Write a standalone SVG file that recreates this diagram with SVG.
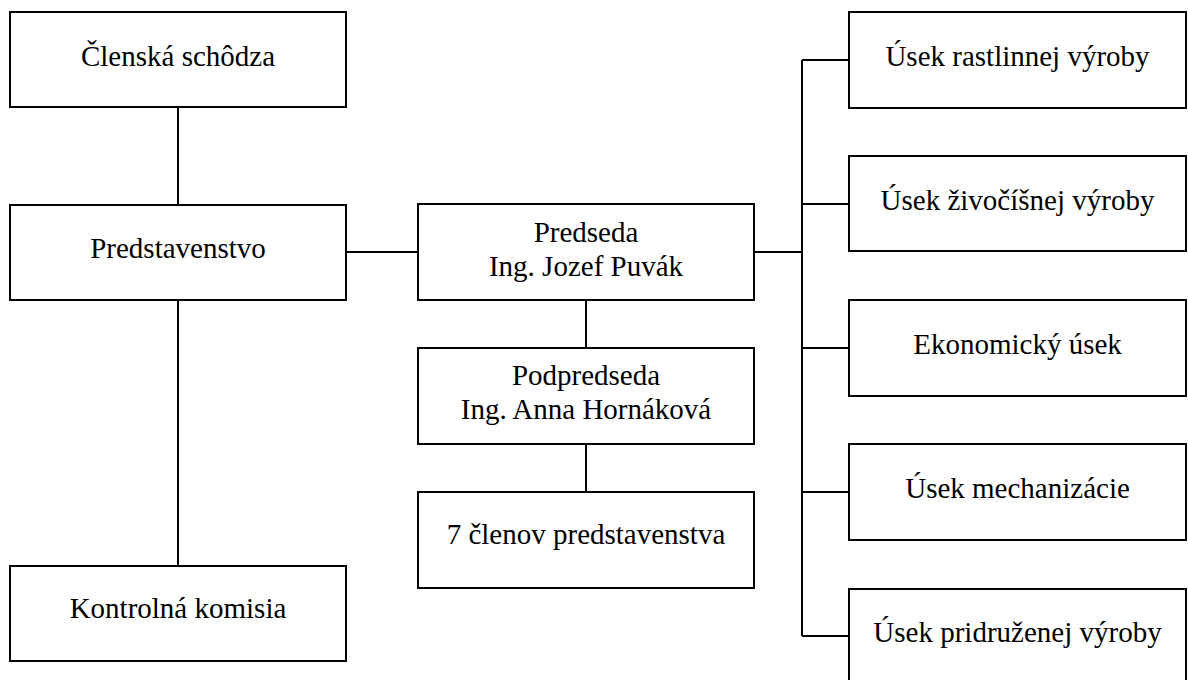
<svg xmlns="http://www.w3.org/2000/svg" width="1188" height="680" viewBox="0 0 1188 680">
<style>
.box{fill:#fff;stroke:#000;stroke-width:2}
.t{font-family:"Liberation Serif","Times New Roman",serif;font-size:29px;fill:#000;text-anchor:middle}
.c{stroke:#000;stroke-width:2;fill:none}
</style>
<rect width="1188" height="680" fill="#fff"/>
<g id="connectors">
<path class="c" d="M178 107V205M178 300V566M346 252H418M754 252H802M586 300V348M586 444V492M802 60V636M802 60H849M802 204H849M802 348H849M802 492H849M802 636H849"/>
</g>
<g id="clenska"><rect class="box" x="10" y="12" width="336" height="95"/><text class="t" x="178" y="66">Členská schôdza</text></g>
<g id="predstavenstvo"><rect class="box" x="10" y="205" width="336" height="95"/><text class="t" x="178" y="258">Predstavenstvo</text></g>
<g id="kontrolna"><rect class="box" x="10" y="566" width="336" height="95"/><text class="t" x="178" y="618">Kontrolná komisia</text></g>
<g id="predseda"><rect class="box" x="418" y="204" width="336" height="96"/><text class="t" x="586" y="242">Predseda</text><text class="t" x="586" y="276">Ing. Jozef Puvák</text></g>
<g id="podpredseda"><rect class="box" x="418" y="348" width="336" height="96"/><text class="t" x="586" y="385">Podpredseda</text><text class="t" x="586" y="419">Ing. Anna Hornáková</text></g>
<g id="clenovia"><rect class="box" x="418" y="492" width="336" height="96"/><text class="t" x="586" y="544">7 členov predstavenstva</text></g>
<g id="rastlinna"><rect class="box" x="849" y="12" width="337" height="96"/><text class="t" x="1017.5" y="66">Úsek rastlinnej výroby</text></g>
<g id="zivocisna"><rect class="box" x="849" y="156" width="337" height="95"/><text class="t" x="1017.5" y="210">Úsek živočíšnej výroby</text></g>
<g id="ekonomicky"><rect class="box" x="849" y="300" width="337" height="96"/><text class="t" x="1017.5" y="354">Ekonomický úsek</text></g>
<g id="mechanizacia"><rect class="box" x="849" y="444" width="337" height="96"/><text class="t" x="1017.5" y="498">Úsek mechanizácie</text></g>
<g id="pridruzena"><rect class="box" x="849" y="589" width="337" height="96"/><text class="t" x="1017.5" y="642">Úsek pridruženej výroby</text></g>
</svg>
